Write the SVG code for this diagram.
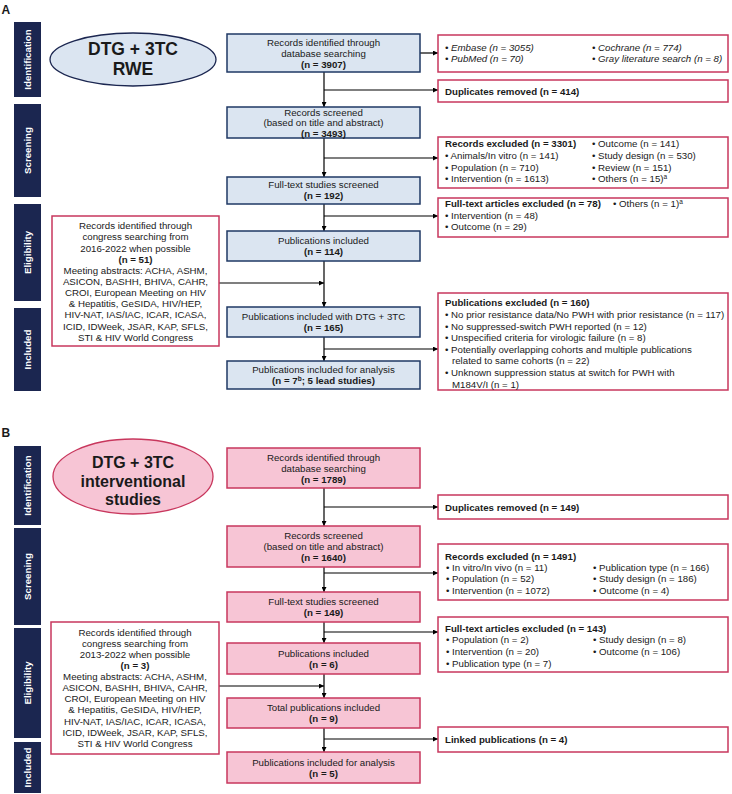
<svg xmlns="http://www.w3.org/2000/svg" width="732" height="794" viewBox="0 0 732 794">
<defs>
<marker id="ah" markerUnits="userSpaceOnUse" markerWidth="5" markerHeight="5" refX="5" refY="2.5" orient="auto"><path d="M0,0 L5,2.5 L0,5 z" fill="#000"/></marker>
<style>
text{font-family:"Liberation Sans",Arial,sans-serif;font-size:9.7px;fill:#1a1a1a}
.c{text-anchor:middle}
.b{font-weight:bold}
.i{font-style:italic}
.side rect{fill:#1b2650}
.side text{fill:#fff;font-weight:bold;text-anchor:middle}
.bA{fill:#dbe5f1;stroke:#1f3864;stroke-width:1.5}
.bR{fill:#fff;stroke:#c8375d;stroke-width:1.5}
.bB{fill:#f7c5d5;stroke:#c8375d;stroke-width:1.5}
.conn path{stroke:#000;stroke-width:1.2;fill:none}
.conn .a{marker-end:url(#ah)}
.big{font-weight:bold;text-anchor:middle}
.sup{font-size:6.5px}
</style>
</defs>
<rect width="732" height="794" fill="#fff"/>
<text x="1.5" y="13.5" class="b" style="font-size:12px">A</text>
<text x="1.5" y="437" class="b" style="font-size:12px">B</text>

<g id="sidebarsA" class="side">
<rect x="14" y="22" width="27" height="75"/><text transform="translate(31,59.5) rotate(-90)">Identification</text>
<rect x="14" y="104" width="27" height="93"/><text transform="translate(31,150.5) rotate(-90)">Screening</text>
<rect x="14" y="204" width="27" height="97"/><text transform="translate(31,252.5) rotate(-90)">Eligibility</text>
<rect x="14" y="308" width="27" height="83"/><text transform="translate(31,349.5) rotate(-90)">Included</text>
</g>
<g id="sidebarsB" class="side">
<rect x="14" y="446" width="27" height="79"/><text transform="translate(31,485.5) rotate(-90)">Identification</text>
<rect x="14" y="528" width="27" height="97"/><text transform="translate(31,576.5) rotate(-90)">Screening</text>
<rect x="14" y="628" width="27" height="110"/><text transform="translate(31,683) rotate(-90)">Eligibility</text>
<rect x="14" y="742" width="27" height="51"/><text transform="translate(31,767.5) rotate(-90)">Included</text>
</g>

<g id="connectors" class="conn">
<path class="a" d="M420,53 H438"/>
<path class="a" d="M324,72 V107"/>
<path class="a" d="M324,90 H438"/>
<path class="a" d="M324,138 V177"/>
<path class="a" d="M324,158 H438"/>
<path class="a" d="M324,204 V231"/>
<path class="a" d="M324,216 H438"/>
<path class="a" d="M324,261 V307"/>
<path class="a" d="M219,283 H324"/>
<path class="a" d="M324,337 V361"/>
<path class="a" d="M324,349 H438"/>
<path class="a" d="M324,488 V526"/>
<path class="a" d="M324,507 H438"/>
<path class="a" d="M324,567 V592"/>
<path class="a" d="M324,573 H438"/>
<path class="a" d="M324,622 V643"/>
<path class="a" d="M324,632 H438"/>
<path class="a" d="M324,674 V698"/>
<path class="a" d="M219,686 H324"/>
<path class="a" d="M324,728 V752"/>
<path class="a" d="M324,739 H438"/>
</g>

<g id="ellipseA">
<ellipse cx="133" cy="59.5" rx="83" ry="26.5" fill="#dbe5f1" stroke="#1b2650" stroke-width="1.3"/>
<text x="133" y="54.5" class="big" style="font-size:17.5px">DTG + 3TC</text>
<text x="133" y="74.5" class="big" style="font-size:17.5px">RWE</text>
</g>

<g id="a1"><rect class="bA" x="227" y="34" width="193" height="38"/>
<text class="c" x="323.5" y="45.5">Records identified through</text>
<text class="c" x="323.5" y="56.5">database searching</text>
<text class="c b" x="323.5" y="67.5">(n = 3907)</text></g>
<g id="a2"><rect class="bA" x="227" y="107" width="193" height="31"/>
<text class="c" x="323.5" y="116">Records screened</text>
<text class="c" x="323.5" y="126.3">(based on title and abstract)</text>
<text class="c b" x="323.5" y="136.6">(n = 3493)</text></g>
<g id="a3"><rect class="bA" x="227" y="177" width="193" height="27"/>
<text class="c" x="323.5" y="188.4">Full-text studies screened</text>
<text class="c b" x="323.5" y="199.4">(n = 192)</text></g>
<g id="a4"><rect class="bA" x="227" y="231" width="193" height="30"/>
<text class="c" x="323.5" y="244">Publications included</text>
<text class="c b" x="323.5" y="255">(n = 114)</text></g>
<g id="a5"><rect class="bA" x="227" y="307" width="193" height="30"/>
<text class="c" x="323.5" y="320">Publications included with DTG + 3TC</text>
<text class="c b" x="323.5" y="331">(n = 165)</text></g>
<g id="a6"><rect class="bA" x="227" y="361" width="193" height="28"/>
<text class="c" x="323.5" y="373">Publications included for analysis</text>
<text class="c b" x="323.5" y="384">(n = 7<tspan class="sup" dy="-3.5">b</tspan><tspan dy="3.5">; 5 lead studies)</tspan></text></g>

<g id="congressA"><rect class="bR" x="52" y="216" width="167" height="130"/>
<text class="c" x="135.5" y="229.2">Records identified through</text>
<text class="c" x="135.5" y="240.3">congress searching from</text>
<text class="c" x="135.5" y="251.5">2016-2022 when possible</text>
<text class="c b" x="135.5" y="262.6">(n = 51)</text>
<text class="c" x="135.5" y="273.8">Meeting abstracts: ACHA, ASHM,</text>
<text class="c" x="135.5" y="284.9">ASICON, BASHH, BHIVA, CAHR,</text>
<text class="c" x="135.5" y="296.1">CROI, European Meeting on HIV</text>
<text class="c" x="135.5" y="307.2">&amp; Hepatitis, GeSIDA, HIV/HEP,</text>
<text class="c" x="135.5" y="318.4">HIV-NAT, IAS/IAC, ICAR, ICASA,</text>
<text class="c" x="135.5" y="329.5">ICID, IDWeek, JSAR, KAP, SFLS,</text>
<text class="c" x="135.5" y="340.7">STI &amp; HIV World Congress</text></g>

<g id="rA1"><rect class="bR" x="438" y="35" width="290" height="37"/>
<text class="i" x="445" y="50.8">• Embase (n = 3055)</text>
<text class="i" x="592" y="50.8">• Cochrane (n = 774)</text>
<text class="i" x="445" y="62.3">• PubMed (n = 70)</text>
<text class="i" x="592" y="62.3">• Gray literature search (n = 8)</text></g>
<g id="rA2"><rect class="bR" x="438" y="80" width="290" height="22"/>
<text class="b" x="445" y="94.5">Duplicates removed (n = 414)</text></g>
<g id="rA3"><rect class="bR" x="438" y="137" width="290" height="51"/>
<text class="b" x="445" y="147.4">Records excluded (n = 3301)</text>
<text x="445" y="159">• Animals/In vitro (n = 141)</text>
<text x="445" y="170.6">• Population (n = 710)</text>
<text x="445" y="182.2">• Intervention (n = 1613)</text>
<text x="592" y="147.4">• Outcome (n = 141)</text>
<text x="592" y="159">• Study design (n = 530)</text>
<text x="592" y="170.6">• Review (n = 151)</text>
<text x="592" y="182.2">• Others (n = 15)<tspan class="sup" dy="-3.5">a</tspan></text></g>
<g id="rA4"><rect class="bR" x="438" y="198" width="290" height="39"/>
<text class="b" x="445" y="207">Full-text articles excluded (n = 78)</text>
<text x="613" y="207">• Others (n = 1)<tspan class="sup" dy="-3.5">a</tspan></text>
<text x="445" y="218.6">• Intervention (n = 48)</text>
<text x="445" y="230.2">• Outcome (n = 29)</text></g>
<g id="rA5"><rect class="bR" x="438" y="293" width="290" height="97"/>
<text class="b" x="445" y="306.4">Publications excluded (n = 160)</text>
<text x="445" y="318">• No prior resistance data/No PWH with prior resistance (n = 117)</text>
<text x="445" y="329.6">• No suppressed-switch PWH reported (n = 12)</text>
<text x="445" y="341.2">• Unspecified criteria for virologic failure (n = 8)</text>
<text x="445" y="352.8">• Potentially overlapping cohorts and multiple publications</text>
<text x="452" y="364.4">related to same cohorts (n = 22)</text>
<text x="445" y="376">• Unknown suppression status at switch for PWH with</text>
<text x="452" y="387.6">M184V/I (n = 1)</text></g>

<g id="ellipseB">
<ellipse cx="133" cy="476.5" rx="80" ry="37.5" fill="#f7c5d5" stroke="#c8375d" stroke-width="1.3"/>
<text x="133" y="468" class="big" style="font-size:16px">DTG + 3TC</text>
<text x="133" y="486.5" class="big" style="font-size:16px">interventional</text>
<text x="133" y="505" class="big" style="font-size:16px">studies</text>
</g>

<g id="b1"><rect class="bB" x="227" y="448" width="193" height="40"/>
<text class="c" x="323.5" y="460.5">Records identified through</text>
<text class="c" x="323.5" y="471.5">database searching</text>
<text class="c b" x="323.5" y="482.5">(n = 1789)</text></g>
<g id="b2"><rect class="bB" x="227" y="526" width="193" height="41"/>
<text class="c" x="323.5" y="539">Records screened</text>
<text class="c" x="323.5" y="550">(based on title and abstract)</text>
<text class="c b" x="323.5" y="561">(n = 1640)</text></g>
<g id="b3"><rect class="bB" x="227" y="592" width="193" height="30"/>
<text class="c" x="323.5" y="605">Full-text studies screened</text>
<text class="c b" x="323.5" y="616">(n = 149)</text></g>
<g id="b4"><rect class="bB" x="227" y="643" width="193" height="31"/>
<text class="c" x="323.5" y="656.5">Publications included</text>
<text class="c b" x="323.5" y="667.5">(n = 6)</text></g>
<g id="b5"><rect class="bB" x="227" y="698" width="193" height="30"/>
<text class="c" x="323.5" y="711">Total publications included</text>
<text class="c b" x="323.5" y="722">(n = 9)</text></g>
<g id="b6"><rect class="bB" x="227" y="752" width="193" height="31"/>
<text class="c" x="323.5" y="765.5">Publications included for analysis</text>
<text class="c b" x="323.5" y="776.5">(n = 5)</text></g>

<g id="congressB"><rect class="bR" x="51" y="622" width="168" height="132"/>
<text class="c" x="135" y="635.7">Records identified through</text>
<text class="c" x="135" y="646.8">congress searching from</text>
<text class="c" x="135" y="657.9">2013-2022 when possible</text>
<text class="c b" x="135" y="669">(n = 3)</text>
<text class="c" x="135" y="680.1">Meeting abstracts: ACHA, ASHM,</text>
<text class="c" x="135" y="691.2">ASICON, BASHH, BHIVA, CAHR,</text>
<text class="c" x="135" y="702.3">CROI, European Meeting on HIV</text>
<text class="c" x="135" y="713.4">&amp; Hepatitis, GeSIDA, HIV/HEP,</text>
<text class="c" x="135" y="724.5">HIV-NAT, IAS/IAC, ICAR, ICASA,</text>
<text class="c" x="135" y="735.6">ICID, IDWeek, JSAR, KAP, SFLS,</text>
<text class="c" x="135" y="746.7">STI &amp; HIV World Congress</text></g>

<g id="rB2"><rect class="bR" x="438" y="495" width="290" height="24"/>
<text class="b" x="445" y="511">Duplicates removed (n = 149)</text></g>
<g id="rB3"><rect class="bR" x="438" y="544" width="290" height="56"/>
<text class="b" x="445" y="559.5">Records excluded (n = 1491)</text>
<text x="446" y="570.5">• In vitro/In vivo (n = 11)</text>
<text x="446" y="582.3">• Population (n = 52)</text>
<text x="446" y="594">• Intervention (n = 1072)</text>
<text x="593" y="570.5">• Publication type (n = 166)</text>
<text x="593" y="582.3">• Study design (n = 186)</text>
<text x="593" y="594">• Outcome (n = 4)</text></g>
<g id="rB4"><rect class="bR" x="438" y="617" width="290" height="55"/>
<text class="b" x="445" y="631.5">Full-text articles excluded (n = 143)</text>
<text x="446" y="643.3">• Population (n = 2)</text>
<text x="446" y="654.8">• Intervention (n = 20)</text>
<text x="446" y="666.5">• Publication type (n = 7)</text>
<text x="593" y="643.3">• Study design (n = 8)</text>
<text x="593" y="654.8">• Outcome (n = 106)</text></g>
<g id="rB5"><rect class="bR" x="438" y="727" width="290" height="25"/>
<text class="b" x="445" y="743">Linked publications (n = 4)</text></g>
</svg>
